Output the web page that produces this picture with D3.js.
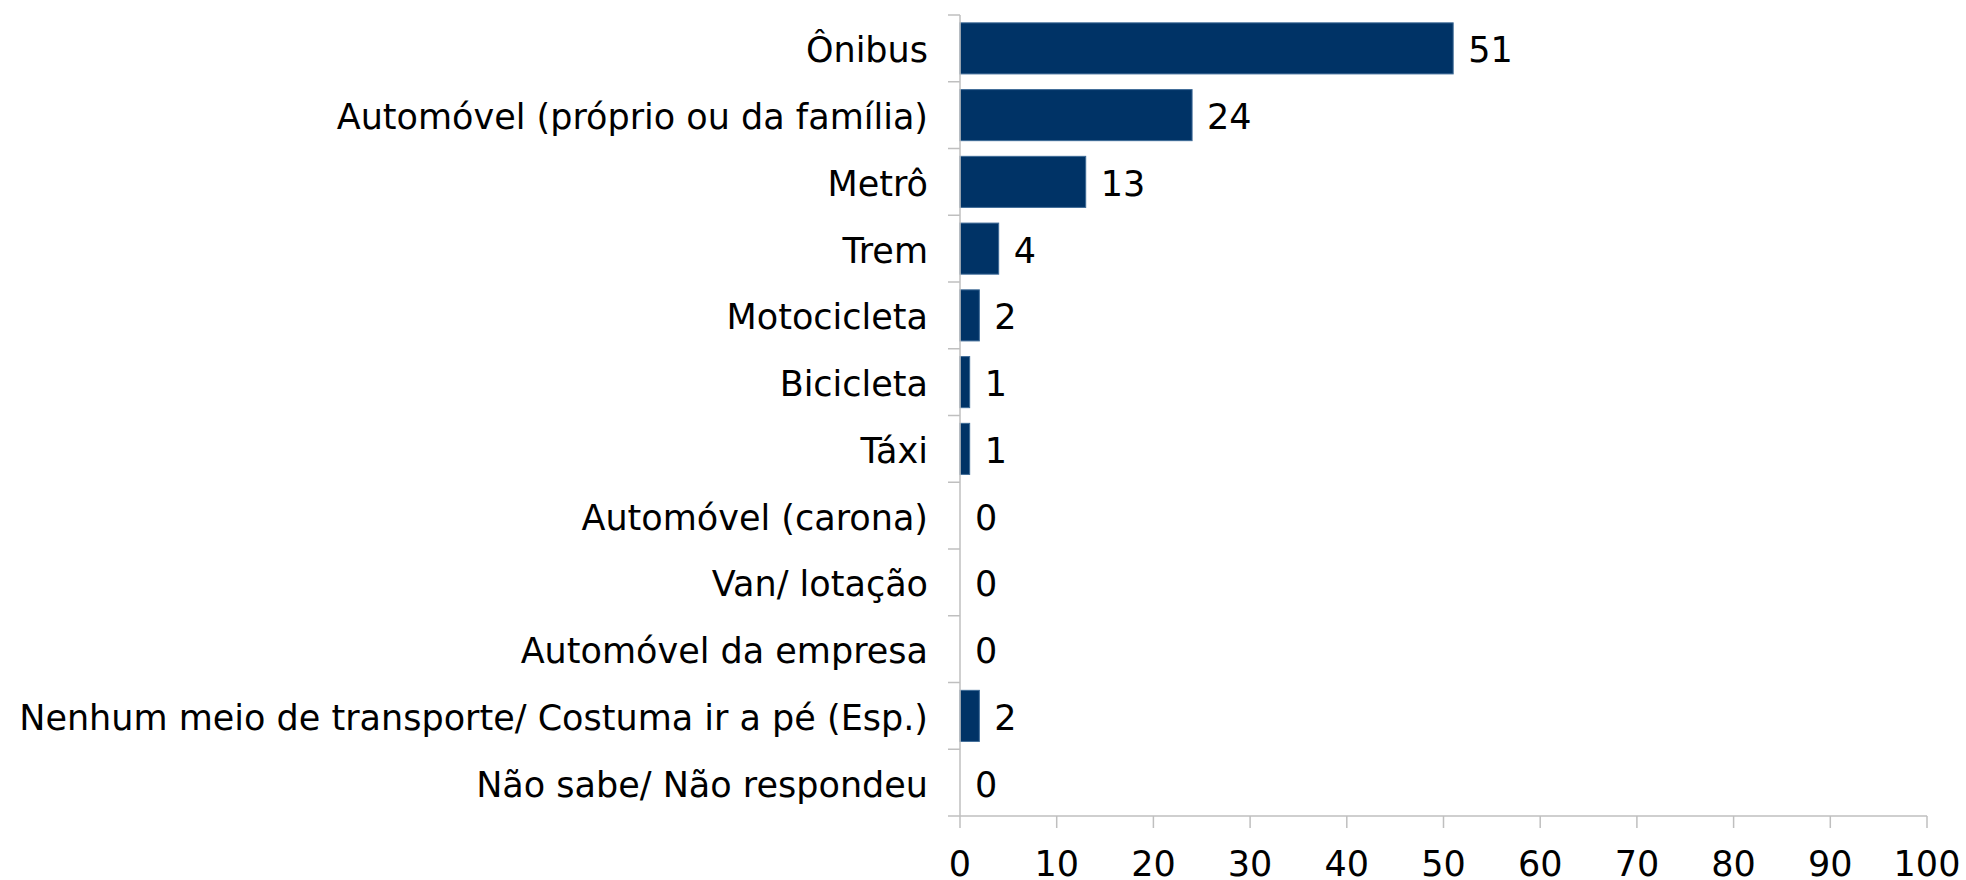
<!DOCTYPE html>
<html>
<head>
<meta charset="utf-8">
<script src="https://cdn.jsdelivr.net/npm/d3@7"></script>
<style>
  html, body { margin: 0; padding: 0; background: #fff; }
  text { font-family: "DejaVu Sans", Verdana, sans-serif; fill: #000; }
</style>
</head>
<body>
<div id="chart"></div>
<script>
// categories, top to bottom
const categories = [
  "Ônibus",
  "Automóvel (próprio ou da família)",
  "Metrô",
  "Trem",
  "Motocicleta",
  "Bicicleta",
  "Táxi",
  "Automóvel (carona)",
  "Van/ lotação",
  "Automóvel da empresa",
  "Nenhum meio de transporte/ Costuma ir a pé (Esp.)",
  "Não sabe/ Não respondeu"
];
const values = [51, 24, 13, 4, 2, 1, 1, 0, 0, 0, 2, 0];
const xTicks = [0, 10, 20, 30, 40, 50, 60, 70, 80, 90, 100];

const width = 1966, height = 880;
const plot = { left: 960, right: 1927, top: 15, bottom: 816 };

const svg = d3.select("#chart").append("svg")
  .attr("width", width)
  .attr("height", height);

const x = d3.scaleLinear().domain([0, 100]).range([plot.left, plot.right]);
const y = d3.scaleBand()
  .domain(categories)
  .range([plot.top, plot.bottom])
  .paddingInner(0.235)
  .paddingOuter(0.1175);

const step = y.step();
const axisColor = "#bfbfbf";

// Bars
svg.append("g")
  .selectAll("rect")
  .data(values.map((v, i) => ({ cat: categories[i], v })))
  .join("rect")
  .attr("x", x(0))
  .attr("y", d => y(d.cat))
  .attr("width", d => x(d.v) - x(0))
  .attr("height", y.bandwidth())
  .attr("fill", d => d.v > 0 ? "#003366" : "none")
  .attr("stroke", d => d.v > 0 ? "#3d6a96" : "none")
  .attr("stroke-width", 1);

// Y axis line + ticks between categories
const yAxis = svg.append("g");
yAxis.append("line")
  .attr("x1", plot.left).attr("x2", plot.left)
  .attr("y1", plot.top).attr("y2", plot.bottom)
  .attr("stroke", axisColor).attr("stroke-width", 1.5);
yAxis.selectAll("line.tick")
  .data(d3.range(categories.length + 1))
  .join("line")
  .attr("class", "tick")
  .attr("x1", plot.left - 12).attr("x2", plot.left)
  .attr("y1", i => plot.top + i * step).attr("y2", i => plot.top + i * step)
  .attr("stroke", axisColor).attr("stroke-width", 1.5);

// Category labels
svg.append("g")
  .selectAll("text")
  .data(categories)
  .join("text")
  .attr("x", 928)
  .attr("y", d => y(d) + y.bandwidth() / 2)
  .attr("dy", "0.4em")
  .attr("text-anchor", "end")
  .style("font-size", "35px")
  .text(d => d);

// Value labels
svg.append("g")
  .selectAll("text")
  .data(values.map((v, i) => ({ cat: categories[i], v })))
  .join("text")
  .attr("x", d => x(d.v) + 15)
  .attr("y", d => y(d.cat) + y.bandwidth() / 2)
  .attr("dy", "0.4em")
  .style("font-size", "35px")
  .text(d => d.v);

// X axis
const xAxis = svg.append("g");
xAxis.append("line")
  .attr("x1", plot.left).attr("x2", plot.right)
  .attr("y1", plot.bottom).attr("y2", plot.bottom)
  .attr("stroke", axisColor).attr("stroke-width", 1.5);
xAxis.selectAll("line.tick")
  .data(xTicks)
  .join("line")
  .attr("class", "tick")
  .attr("x1", d => x(d)).attr("x2", d => x(d))
  .attr("y1", plot.bottom).attr("y2", plot.bottom + 12)
  .attr("stroke", axisColor).attr("stroke-width", 1.5);
xAxis.selectAll("text")
  .data(xTicks)
  .join("text")
  .attr("x", d => x(d))
  .attr("y", 876)
  .attr("text-anchor", "middle")
  .style("font-size", "35px")
  .text(d => d);
</script>
</body>
</html>
